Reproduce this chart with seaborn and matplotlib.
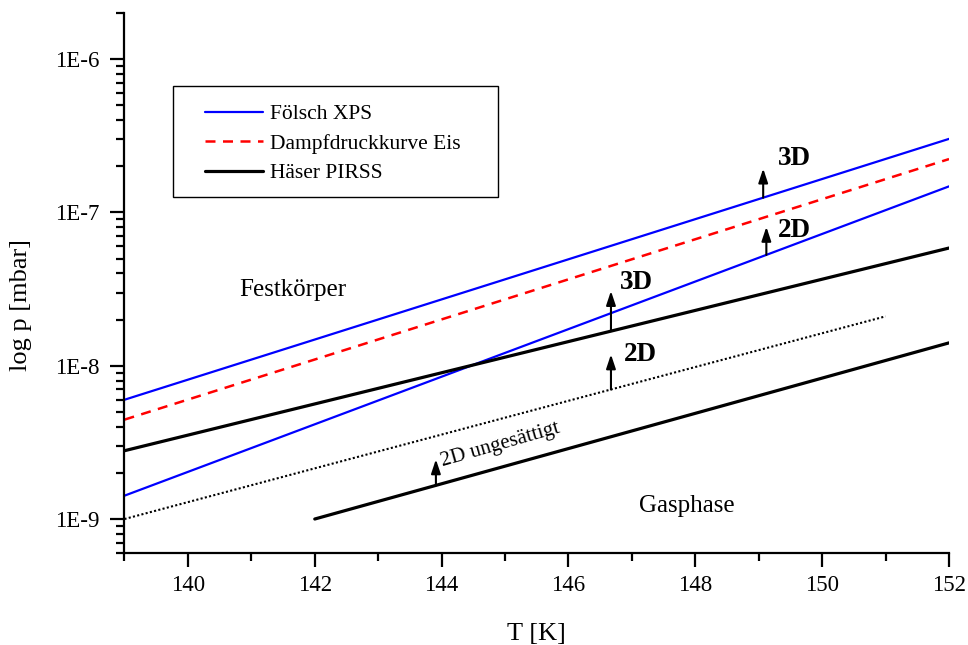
import numpy as np
import pandas as pd
import matplotlib
matplotlib.use("Agg")
import matplotlib.pyplot as plt
from matplotlib.lines import Line2D
from matplotlib.patches import Rectangle
from matplotlib.ticker import FixedLocator, FuncFormatter, NullFormatter, MultipleLocator
import seaborn as sns

# temperature endpoints [K]
T_full = [139, 152]
T_haeser_2d = [142, 152]
T_unsat = [139, 151]

# pressures [mbar] at the endpoints of each line
p_foelsch_3d = [6.0e-9, 3.02e-7]
p_foelsch_2d = [1.42e-9, 1.48e-7]
p_eis = [4.45e-9, 2.23e-7]
p_haeser_3d = [2.79e-9, 5.86e-8]
p_haeser_2d = [1.0e-9, 1.41e-8]
p_unsat = [1.0e-9, 2.1e-8]

legend_labels = ["Fölsch XPS", "Dampfdruckkurve Eis", "Häser PIRSS"]
x_ticks = [140, 142, 144, 146, 148, 150, 152]
y_ticks = [1e-9, 1e-8, 1e-7, 1e-6]

sns.set_style("ticks")
plt.rcParams["font.family"] = ["Liberation Serif", "DejaVu Serif"]
plt.rcParams["text.color"] = "black"
plt.rcParams["axes.labelcolor"] = "black"
plt.rcParams["xtick.color"] = "black"
plt.rcParams["ytick.color"] = "black"

BLUE = "#0000ff"
RED = "#ff0000"
BLACK = "#000000"

curves = {
    "foelsch_3d": (T_full, p_foelsch_3d, BLUE, "-", 1.6),
    "foelsch_2d": (T_full, p_foelsch_2d, BLUE, "-", 1.6),
    "eis": (T_full, p_eis, RED, (0, (4, 3)), 1.8),
    "haeser_3d": (T_full, p_haeser_3d, BLACK, "-", 2.3),
    "haeser_2d": (T_haeser_2d, p_haeser_2d, BLACK, "-", 2.3),
    "unsat": (T_unsat, p_unsat, BLACK, (0, (1, 1.1)), 1.5),
}

frames = [pd.DataFrame({"T": t, "p": p, "curve": name})
          for name, (t, p, *_rest) in curves.items()]
df = pd.concat(frames, ignore_index=True)

fig = plt.figure(figsize=(9.68, 6.45), dpi=100)
ax = fig.add_axes([0.1286, 0.1426, 0.8518, 0.8372])

for name, (t, p, color, ls, lw) in curves.items():
    sns.lineplot(data=df[df["curve"] == name], x="T", y="p", ax=ax,
                 color=color, linestyle=ls, linewidth=lw, legend=False)

ax.set_yscale("log")
ax.set_xlim(139, 152)
ax.set_ylim(6e-10, 2e-6)

# axes styling
sns.despine(ax=ax)
for side in ("left", "bottom"):
    ax.spines[side].set_linewidth(1.6)
    ax.spines[side].set_color("black")

ax.xaxis.set_major_locator(FixedLocator(x_ticks))
ax.xaxis.set_minor_locator(MultipleLocator(1))
ax.yaxis.set_major_locator(FixedLocator(y_ticks))
minor_y = [m * 10.0 ** e for e in range(-10, -5) for m in range(2, 10)]
ax.yaxis.set_minor_locator(FixedLocator(minor_y))
ax.yaxis.set_major_formatter(FuncFormatter(lambda v, _: f"1E{int(round(np.log10(v)))}"))
ax.yaxis.set_minor_formatter(NullFormatter())

ax.tick_params(which="major", direction="out", length=10, width=1.6,
               labelsize=16.5, color="black", labelcolor="black", pad=6)
ax.tick_params(axis="y", which="major", pad=8)
ax.tick_params(which="minor", direction="out", length=6, width=1.6, color="black")

ax.set_xlabel("T [K]", fontsize=19, labelpad=19)
ax.set_ylabel("log p [mbar]", fontsize=19)
ax.yaxis.set_label_coords(-0.112, 0.46)


def on_curve(name, T):
    t, p = curves[name][0], curves[name][1]
    return 10 ** np.interp(T, t, np.log10(p))


# growth direction arrows: (temperature, curve, length in decades)
arrows = [
    (149.07, "foelsch_3d", 0.19),
    (149.12, "foelsch_2d", 0.183),
    (146.67, "haeser_3d", 0.262),
    (146.67, "unsat", 0.229),
    (143.91, "haeser_2d", 0.17),
]
for T, name, dec in arrows:
    base = on_curve(name, T)
    ax.annotate("", xy=(T, base * 10 ** dec), xytext=(T, base),
                arrowprops=dict(arrowstyle="-|>,head_length=0.6,head_width=0.2",
                                color="black", lw=1.5, mutation_scale=14,
                                shrinkA=0, shrinkB=0))

# phase labels
phase_labels = [
    ("3D", 149.57, 2.24e-7),
    ("2D", 149.57, 7.58e-8),
    ("3D", 147.07, 3.51e-8),
    ("2D", 147.13, 1.19e-8),
]
for txt, T, p in phase_labels:
    ax.text(T, p, txt, fontsize=19.5, fontweight="bold", ha="center", va="center")

ax.text(141.65, 3.11e-8, "Festkörper", fontsize=18, ha="center", va="center")
ax.text(147.87, 1.22e-9, "Gasphase", fontsize=18, ha="center", va="center")
ax.text(144.92, 3.05e-9, "2D ungesättigt", fontsize=15, ha="center", va="center",
        rotation=16, rotation_mode="anchor")

# legend
handles = [
    Line2D([], [], color=BLUE, lw=1.6),
    Line2D([], [], color=RED, lw=1.8, linestyle=(0, (4, 3))),
    Line2D([], [], color=BLACK, lw=2.3),
]
fig.legend(handles, legend_labels, loc="upper left",
           bbox_to_anchor=(205 / 968, 1 - 104 / 645), frameon=False,
           fontsize=15.5, borderpad=0, handlelength=2.7, handletextpad=0.3,
           labelspacing=0.44, borderaxespad=0)
fig.patches.append(Rectangle((173 / 968, 1 - 197 / 645), 325 / 968, 111 / 645,
                             transform=fig.transFigure, fill=False,
                             lw=1.0, ec="black"))

fig.savefig("out.png", dpi=100)
